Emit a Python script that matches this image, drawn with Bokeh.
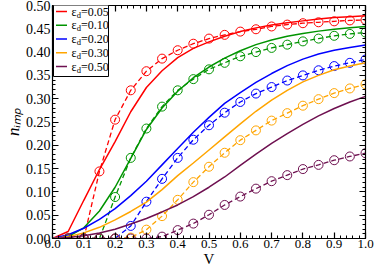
import math
from bokeh.plotting import figure
from bokeh.models import (Range1d, LinearAxis, SingleIntervalTicker, PrintfTickFormatter,
                          CustomJSTickFormatter, Label, BoxAnnotation, Arrow)
from bokeh.embed import file_html
from bokeh.resources import INLINE

# ---------------- data ----------------
V_solid = [0.00, 0.05, 0.10, 0.15, 0.20, 0.25, 0.30, 0.35, 0.40, 0.45, 0.50,
           0.55, 0.60, 0.65, 0.70, 0.75, 0.80, 0.85, 0.90, 0.95, 1.00]
V_dash = [0.05, 0.10, 0.15, 0.20, 0.25, 0.30, 0.35, 0.40, 0.45, 0.50,
          0.55, 0.60, 0.65, 0.70, 0.75, 0.80, 0.85, 0.90, 0.95, 1.00]

eps_labels = ["0.05", "0.10", "0.20", "0.30", "0.50"]
colors = ["#ff0000", "#009400", "#0000ff", "#ffa500", "#6e1050"]

solid_005 = [0.000, 0.015, 0.082, 0.148, 0.208, 0.272, 0.324, 0.360, 0.388, 0.408, 0.422,
             0.434, 0.444, 0.452, 0.458, 0.463, 0.467, 0.471, 0.474, 0.476, 0.478]
solid_010 = [0.000, 0.004, 0.023, 0.059, 0.110, 0.172, 0.234, 0.280, 0.316, 0.345, 0.368,
             0.387, 0.403, 0.416, 0.426, 0.434, 0.440, 0.445, 0.449, 0.452, 0.455]
solid_020 = [0.000, 0.008, 0.022, 0.041, 0.064, 0.092, 0.123, 0.158, 0.193, 0.228, 0.260,
             0.290, 0.313, 0.335, 0.354, 0.371, 0.385, 0.396, 0.404, 0.410, 0.415]
solid_030 = [0.000, 0.004, 0.012, 0.024, 0.040, 0.058, 0.078, 0.105, 0.135, 0.162, 0.190,
             0.218, 0.246, 0.273, 0.297, 0.318, 0.336, 0.350, 0.362, 0.370, 0.377]
solid_050 = [0.000, 0.002, 0.006, 0.012, 0.020, 0.031, 0.043, 0.057, 0.072, 0.090, 0.110,
             0.132, 0.157, 0.181, 0.204, 0.225, 0.245, 0.263, 0.279, 0.293, 0.305]

dash_005 = [0.000, 0.000, 0.144, 0.255, 0.318, 0.359, 0.386, 0.404, 0.418, 0.429,
            0.437, 0.444, 0.449, 0.455, 0.459, 0.462, 0.464, 0.466, 0.468, 0.469]
dash_010 = [0.000, 0.000, 0.000, 0.089, 0.173, 0.236, 0.283, 0.318, 0.342, 0.363,
            0.377, 0.391, 0.400, 0.409, 0.416, 0.423, 0.429, 0.435, 0.439, 0.442]
dash_020 = [0.000, 0.000, 0.000, 0.000, 0.027, 0.079, 0.128, 0.173, 0.212, 0.243,
            0.270, 0.293, 0.311, 0.325, 0.339, 0.350, 0.361, 0.370, 0.377, 0.384]
dash_030 = [0.000, 0.000, 0.000, 0.000, 0.002, 0.019, 0.048, 0.083, 0.121, 0.154,
            0.184, 0.211, 0.232, 0.253, 0.269, 0.285, 0.299, 0.312, 0.322, 0.331]
dash_050 = [0.000, 0.000, 0.000, 0.000, 0.000, 0.000, 0.004, 0.018, 0.032, 0.051,
            0.072, 0.090, 0.107, 0.123, 0.136, 0.149, 0.158, 0.168, 0.176, 0.183]

solids = [solid_005, solid_010, solid_020, solid_030, solid_050]
dashes = [dash_005, dash_010, dash_020, dash_030, dash_050]

x_ticks_interval = 0.1
y_ticks_interval = 0.05
x_title = "V"
y_title = "n\u1d62\u2098\u209a"   # n_imp

FONT = "Liberation Serif"

# ---------------- figure ----------------
p = figure(width=374, height=269, output_backend="svg", toolbar_location=None,
           x_range=Range1d(0, 1), y_range=Range1d(0, 0.5),
           min_border_left=47, min_border_right=9, min_border_top=5, min_border_bottom=28)
p.xgrid.visible = False
p.ygrid.visible = False
p.outline_line_color = None
p.background_fill_color = "white"
p.border_fill_color = "white"


def style_axis(ax, ticker, labels, fmt, size):
    ax.ticker = ticker
    ax.major_tick_in = 6
    ax.major_tick_out = 0
    ax.minor_tick_in = 3
    ax.minor_tick_out = 0
    ax.axis_line_color = "black"
    ax.axis_line_width = 1.2
    ax.major_tick_line_color = "black"
    ax.major_tick_line_width = 1.2
    ax.minor_tick_line_color = "black"
    ax.minor_tick_line_width = 1
    if labels:
        ax.formatter = PrintfTickFormatter(format=fmt)
        ax.major_label_text_font = FONT
        ax.major_label_text_font_size = size
        ax.major_label_text_color = "black"
    else:
        ax.formatter = CustomJSTickFormatter(code="return ''")
        ax.major_label_text_font_size = "0px"
        ax.major_label_standoff = 0


xt = SingleIntervalTicker(interval=x_ticks_interval, num_minor_ticks=5)
yt = SingleIntervalTicker(interval=y_ticks_interval, num_minor_ticks=5)

xa = p.xaxis[0]
style_axis(xa, xt, True, "%.1f", "13px")
xa.major_label_standoff = 1
xa.axis_label = x_title
xa.axis_label_text_font = FONT
xa.axis_label_text_font_style = "normal"
xa.axis_label_text_font_size = "15px"
xa.axis_label_standoff = 0
xa.axis_label_text_color = "black"

ya = p.yaxis[0]
style_axis(ya, yt, True, "%.2f", "14px")
ya.major_label_standoff = 2
ya.axis_label = y_title
ya.axis_label_text_font = FONT
ya.axis_label_text_font_style = "italic"
ya.axis_label_text_font_size = "17px"
ya.axis_label_standoff = 0
ya.axis_label_text_color = "black"

top = LinearAxis()
style_axis(top, SingleIntervalTicker(interval=x_ticks_interval, num_minor_ticks=5), False, None, None)
p.add_layout(top, "above")
right = LinearAxis()
style_axis(right, SingleIntervalTicker(interval=y_ticks_interval, num_minor_ticks=5), False, None, None)
p.add_layout(right, "right")

# ---------------- curves ----------------
for s, d, c in zip(solids, dashes, colors):
    p.line(V_solid, s, line_color=c, line_width=1.5)
    p.line(V_dash, d, line_color=c, line_width=1.3, line_dash="5 3")
    p.scatter(V_dash, d, marker="circle", size=9, fill_color=None, line_color=c, line_width=1)

# ---------------- legend ----------------
p.add_layout(BoxAnnotation(left=1, right=56, top=236, bottom=162,
                           left_units="screen", right_units="screen",
                           top_units="screen", bottom_units="screen",
                           fill_color="white", fill_alpha=1.0,
                           line_color="black", line_width=1, line_alpha=1.0))
y0 = 227
dy = 13.75
for i, (lab, c) in enumerate(zip(eps_labels, colors)):
    yy = y0 - i * dy
    p.add_layout(Arrow(end=None, x_start=3.5, y_start=yy, x_end=14.5, y_end=yy,
                       start_units="screen", end_units="screen",
                       line_color=c, line_width=1.5))
    p.add_layout(Label(x=19, y=yy, x_units="screen", y_units="screen", text="\u03b5",
                       text_font=FONT, text_font_size="12px", text_baseline="middle",
                       text_color="black"))
    p.add_layout(Label(x=24.3, y=yy - 3, x_units="screen", y_units="screen", text="d",
                       text_font=FONT, text_font_size="8.5px", text_baseline="middle",
                       text_color="black"))
    p.add_layout(Label(x=28.5, y=yy, x_units="screen", y_units="screen", text="=" + lab,
                       text_font=FONT, text_font_size="12px", text_baseline="middle",
                       text_color="black"))

open("out.html", "w").write(file_html(p, INLINE))
